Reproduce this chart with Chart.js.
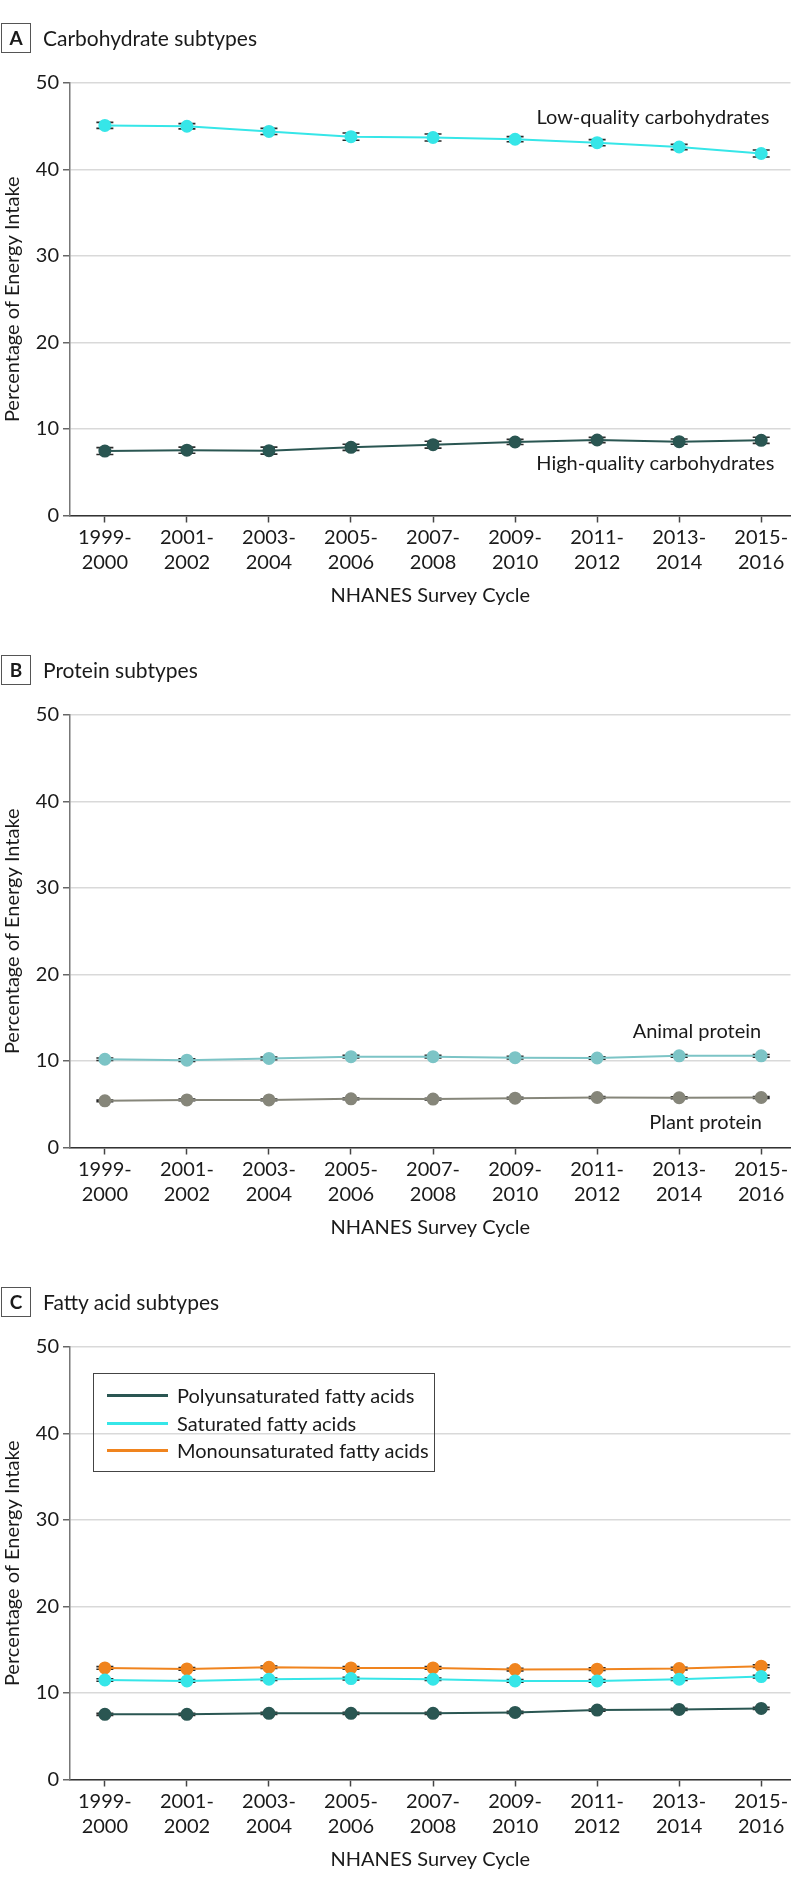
<!DOCTYPE html>
<html>
<head>
<meta charset="utf-8">
<script src="https://cdn.jsdelivr.net/npm/chart.js@4.4.1/dist/chart.umd.min.js"></script>
<style>
  html, body { margin: 0; padding: 0; background: #fff; overflow: hidden; }
  body { width: 798px; font-family: Lato, "Noto Sans", sans-serif; color: #1a1a1a; }
  .panel { position: relative; width: 798px; }
  .panel canvas { position: absolute; left: 0; top: 0; }
  .tag { position: absolute; left: 1px; top: 23px; width: 28px; height: 28px; border: 1.5px solid #555;
         font-weight: bold; font-size: 19px; line-height: 28px; text-align: center; }
  .head { position: absolute; left: 43px; top: 24px; font-size: 21px; line-height: 28px; }
  .legend { position: absolute; left: 93px; top: 109px; width: 342px; height: 99px; border: 1.5px solid #444;
            box-sizing: border-box; padding-top: 8px; }
  .legend div { height: 27.5px; line-height: 27.5px; font-size: 20px; position: relative; padding-left: 83px;
                white-space: nowrap; }
  .legend span { position: absolute; left: 13px; top: 12px; width: 61px; height: 3px; }
</style>
</head>
<body>
<div id="app"></div>
<script>
// Ciclos NHANES (eje x)
const ciclos = [['1999-', '2000'], ['2001-', '2002'], ['2003-', '2004'], ['2005-', '2006'], ['2007-', '2008'],
                ['2009-', '2010'], ['2011-', '2012'], ['2013-', '2014'], ['2015-', '2016']];
const ticksY = [0, 10, 20, 30, 40, 50];

// A: carbohidratos
const carbBaja = [45.1, 45.0, 44.4, 43.8, 43.7, 43.5, 43.1, 42.6, 41.85];
const carbBajaErr = [0.35, 0.3, 0.35, 0.42, 0.4, 0.3, 0.35, 0.3, 0.4];
const carbAlta = [7.45, 7.55, 7.5, 7.88, 8.19, 8.5, 8.73, 8.54, 8.69];
const carbAltaErr = [0.4, 0.35, 0.4, 0.35, 0.4, 0.3, 0.3, 0.3, 0.35];

// B: proteinas
const protAnimal = [10.2, 10.1, 10.3, 10.5, 10.5, 10.38, 10.35, 10.6, 10.6];
const protAnimalErr = [0.15, 0.15, 0.15, 0.15, 0.15, 0.15, 0.15, 0.15, 0.15];
const protVegetal = [5.4, 5.5, 5.5, 5.63, 5.6, 5.7, 5.78, 5.75, 5.78];
const protVegetalErr = [0.1, 0.1, 0.1, 0.1, 0.1, 0.1, 0.1, 0.1, 0.1];

// C: acidos grasos
const grasaPoli = [7.53, 7.53, 7.65, 7.65, 7.65, 7.76, 8.03, 8.1, 8.22];
const grasaPoliErr = [0.12, 0.12, 0.12, 0.12, 0.12, 0.12, 0.12, 0.12, 0.12];
const grasaSat = [11.5, 11.4, 11.59, 11.67, 11.59, 11.4, 11.4, 11.59, 11.9];
const grasaSatErr = [0.15, 0.15, 0.15, 0.15, 0.15, 0.15, 0.15, 0.15, 0.15];
const grasaMono = [12.9, 12.78, 12.98, 12.9, 12.9, 12.71, 12.75, 12.82, 13.1];
const grasaMonoErr = [0.15, 0.15, 0.15, 0.15, 0.15, 0.15, 0.15, 0.15, 0.15];

const FUENTE = 'Lato';

// Barras de error (capuchones horizontales)
const errorBars = {
    id: 'errorBars',
    beforeDatasetsDraw(chart) {
        const ctx = chart.ctx;
        const x = chart.scales.x, y = chart.scales.y;
        chart.data.datasets.forEach(ds => {
            if (!ds.errores) return;
            ctx.save();
            ctx.strokeStyle = '#2a2a2a';
            ctx.lineWidth = 1.6;
            ds.data.forEach((p, i) => {
                const e = ds.errores[i];
                const px = x.getPixelForValue(p.x);
                const y1 = y.getPixelForValue(p.y - e), y2 = y.getPixelForValue(p.y + e);
                ctx.beginPath();
                ctx.moveTo(px, y1); ctx.lineTo(px, y2);
                ctx.moveTo(px - 8.5, y1); ctx.lineTo(px + 8.5, y1);
                ctx.moveTo(px - 8.5, y2); ctx.lineTo(px + 8.5, y2);
                ctx.stroke();
            });
            ctx.restore();
        });
    }
};

// Etiquetas de texto junto a las lineas
const etiquetas = {
    id: 'etiquetas',
    afterDraw(chart, args, opts) {
        const ctx = chart.ctx;
        const x = chart.scales.x, y = chart.scales.y;
        (opts.items || []).forEach(it => {
            ctx.save();
            ctx.font = '20px ' + FUENTE;
            ctx.fillStyle = '#1a1a1a';
            ctx.textAlign = 'right';
            ctx.textBaseline = 'middle';
            ctx.fillText(it.text, x.getPixelForValue(it.x), y.getPixelForValue(it.y));
            ctx.restore();
        });
    }
};

function serie(nombre, valores, errores, color) {
    return {
        label: nombre,
        data: valores.map((v, i) => ({ x: i, y: v })),
        errores: errores,
        borderColor: color,
        backgroundColor: color,
        borderWidth: 2,
        pointRadius: 5.5,
        pointHoverRadius: 5.5,
        tension: 0
    };
}

function crearPanel(letra, titulo, alto, datasets, items, leyenda) {
    const panel = document.createElement('div');
    panel.className = 'panel';
    panel.style.height = alto + 'px';
    const canvas = document.createElement('canvas');
    canvas.width = 798; canvas.height = alto;
    canvas.style.width = '798px'; canvas.style.height = alto + 'px';
    panel.appendChild(canvas);
    panel.insertAdjacentHTML('beforeend',
        '<div class="tag">' + letra + '</div><div class="head">' + titulo + '</div>');
    if (leyenda) {
        const caja = document.createElement('div');
        caja.className = 'legend';
        datasets.forEach(ds => {
            caja.insertAdjacentHTML('beforeend',
                '<div><span style="background:' + ds.borderColor + '"></span>' + ds.label + '</div>');
        });
        panel.appendChild(caja);
    }
    document.getElementById('app').appendChild(panel);

    const padAbajo = alto - 608;
    new Chart(canvas.getContext('2d'), {
        type: 'line',
        data: { datasets },
        options: {
            responsive: false,
            animation: false,
            events: [],
            layout: { padding: { top: 83, right: 5, left: 0, bottom: padAbajo } },
            plugins: { legend: { display: false }, tooltip: { enabled: false }, etiquetas: { items } },
            scales: {
                x: {
                    type: 'linear',
                    min: -0.425,
                    max: 8.357,
                    afterBuildTicks: s => { s.ticks = ciclos.map((c, i) => ({ value: i })); },
                    afterFit: s => { s.height = alto - padAbajo - 515.5; },
                    ticks: {
                        callback: v => ciclos[v],
                        font: { family: FUENTE, size: 20, lineHeight: 1.25 },
                        color: '#1a1a1a',
                        padding: 3,
                        maxRotation: 0,
                        autoSkip: false
                    },
                    grid: { drawOnChartArea: false, tickColor: '#444', tickLength: 7, tickWidth: 1.5 },
                    border: { color: '#333', width: 1.5 },
                    title: {
                        display: true,
                        text: 'NHANES Survey Cycle',
                        font: { family: FUENTE, size: 20, lineHeight: 1.2 },
                        color: '#1a1a1a',
                        padding: 0
                    }
                },
                y: {
                    min: 0,
                    max: 50,
                    afterBuildTicks: s => { s.ticks = ticksY.map(v => ({ value: v })); },
                    afterFit: s => { s.width = 70; },
                    ticks: { font: { family: FUENTE, size: 20 }, color: '#1a1a1a', padding: 4 },
                    grid: { color: '#d9d9d9', lineWidth: 1.5, tickColor: '#666', tickLength: 7, tickWidth: 1.5 },
                    border: { color: '#777', width: 1.5 },
                    title: {
                        display: true,
                        text: 'Percentage of Energy Intake',
                        font: { family: FUENTE, size: 20, lineHeight: 1.2 },
                        color: '#1a1a1a',
                        padding: { top: 1, bottom: 0 }
                    }
                }
            }
        },
        plugins: [errorBars, etiquetas]
    });
}

crearPanel('A', 'Carbohydrate subtypes', 632, [
    serie('Low-quality carbohydrates', carbBaja, carbBajaErr, '#36e6e8'),
    serie('High-quality carbohydrates', carbAlta, carbAltaErr, '#2a5652')
], [
    { text: 'Low-quality carbohydrates', x: 8.1, y: 45.95 },
    { text: 'High-quality carbohydrates', x: 8.16, y: 6.03 }
], false);

crearPanel('B', 'Protein subtypes', 632, [
    serie('Animal protein', protAnimal, protAnimalErr, '#7cc4c6'),
    serie('Plant protein', protVegetal, protVegetalErr, '#86867a')
], [
    { text: 'Animal protein', x: 8.0, y: 13.39 },
    { text: 'Plant protein', x: 8.01, y: 2.87 }
], false);

crearPanel('C', 'Fatty acid subtypes', 626, [
    serie('Polyunsaturated fatty acids', grasaPoli, grasaPoliErr, '#2a5652'),
    serie('Saturated fatty acids', grasaSat, grasaSatErr, '#36e6e8'),
    serie('Monounsaturated fatty acids', grasaMono, grasaMonoErr, '#f0841e')
], [], true);
</script>
</body>
</html>
